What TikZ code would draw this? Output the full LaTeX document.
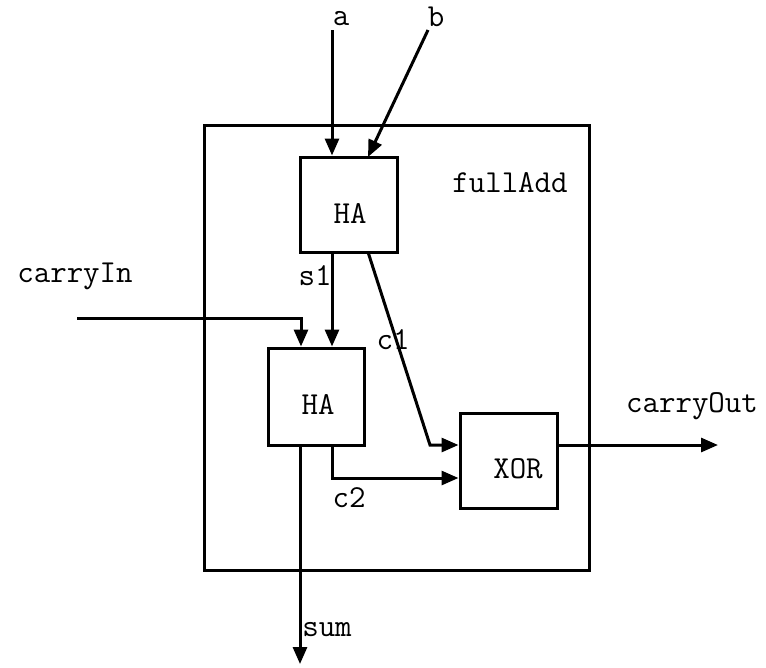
\documentclass[tikz,border=0pt]{standalone}
\usepackage{fontspec}
\usetikzlibrary{arrows.meta,calc}
\begin{document}
\begin{tikzpicture}[x=1pt,y=-1pt,
  every node/.style={font=\ttfamily\fontsize{32}{33}\selectfont},
  blk/.style={draw,line width=3pt,inner sep=0pt},
  wire/.style={line width=3pt,-{Triangle[length=17pt,width=14pt]}},
  lbl/.style={inner sep=0pt}]
\useasboundingbox (0,0) rectangle (766,667);
% outer box
\node[blk,minimum width=385,minimum height=445] (fa) at (396.5,347.5) {};
\node[lbl] (falbl) at (510,183) {fullAdd};
% blocks
\node[blk,minimum width=97,minimum height=95] (ha1) at (348.5,204.5) {};
\node[lbl] (ha1t) at (350,213) {HA};
\node[blk,minimum width=96,minimum height=97] (ha2) at (316,396.5) {};
\node[lbl] (ha2t) at (318,404) {HA};
\node[blk,minimum width=97,minimum height=95] (xor) at (508.5,460.5) {};
\node[lbl] (xort) at (518,469) {XOR};
% coordinates
\coordinate (a) at (332,30);
\coordinate (b) at (428,30);
\coordinate (bin) at (368,157);
\coordinate (cin) at (77,318);
\coordinate (cinb) at (301,318);
\coordinate (s1o) at (332,252);
\coordinate (c1o) at (368,252);
\coordinate (c1b) at (430,445);
\coordinate (c2o) at (332,445);
\coordinate (c2b) at (332,478);
\coordinate (sumo) at (300,445);
\coordinate (sume) at (300,664);
\coordinate (cout) at (718,445);
% labels
\node[lbl] (al) at (341,19) {a};
\node[lbl] (bl) at (436,17) {b};
\node[lbl] (cinl) at (75,276) {carryIn};
\node[lbl] (s1l) at (315,276) {s1};
\node[lbl] (c1l) at (393,340) {c1};
\node[lbl] (c2l) at (349,498) {c2};
\node[lbl] (suml) at (327,630) {sum};
\node[lbl] (coutl) at (692,406) {carryOut};
% wires
\draw[wire] (a) -- (a |- ha1.north);
\draw[wire] (b) -- (bin);
\draw[wire] (cin) -- (cinb) -- (cinb |- ha2.north);
\draw[wire] (s1o) -- (s1o |- ha2.north);
\draw[wire] (c1o) -- (c1b) -- (c1b -| xor.west);
\draw[wire] (c2o) -- (c2b) -- (c2b -| xor.west);
\draw[wire] (sumo) -- (sume);
\draw[wire] (xor.east |- cout) -- (cout);
\end{tikzpicture}
\end{document}
